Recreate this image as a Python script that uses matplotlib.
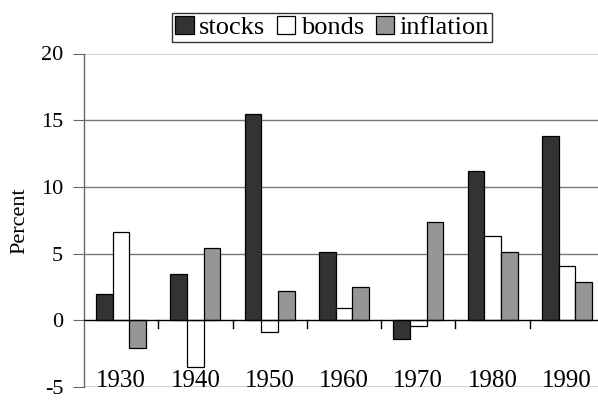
import numpy as np
import matplotlib
matplotlib.use("Agg")
import matplotlib.pyplot as plt

# Data
decades = ['1930', '1940', '1950', '1960', '1970', '1980', '1990']
stocks = [2.0, 3.5, 15.5, 5.1, -1.4, 11.2, 13.8]
bonds = [6.6, -3.5, -0.9, 0.9, -0.4, 6.3, 4.1]
inflation = [-2.1, 5.4, 2.2, 2.5, 7.4, 5.1, 2.9]
series_names = ['stocks', 'bonds', 'inflation']
colors = ['#333333', '#ffffff', '#969696']

plt.rcParams['font.family'] = ['Liberation Serif', 'DejaVu Serif']

fig = plt.figure(figsize=(5.98, 4.0), dpi=100)
ax = fig.add_axes([84 / 598, 1 - 387 / 400, 520 / 598, (387 - 53.5) / 400])

x = np.arange(len(decades))
w = 0.224
handles = []
for k, (vals, name, c) in enumerate(zip([stocks, bonds, inflation], series_names, colors)):
    b = ax.bar(x + (k - 1) * w, vals, width=w, color=c, edgecolor='black',
               linewidth=0.9, label=name, zorder=3)
    handles.append(b)

ax.set_xlim(-0.5, len(decades) - 0.5)
ax.set_ylim(-5, 20)

# Gridlines and frame lines
for yv in [5, 10, 15]:
    ax.axhline(yv, color='#777777', linewidth=1.0, zorder=1)
ax.axhline(20, color='#c8c8c8', linewidth=1.2, zorder=1)
ax.axhline(-5, color='#c8c8c8', linewidth=1.2, zorder=1)
ax.axhline(0, color='black', linewidth=1.0, zorder=4)

for s in ['top', 'right', 'bottom']:
    ax.spines[s].set_visible(False)
ax.spines['left'].set_color('#666666')
ax.spines['left'].set_linewidth(1.0)

ax.set_yticks([-5, 0, 5, 10, 15, 20])
ax.set_yticklabels(['-5', '0', '5', '10', '15', '20'], fontsize=16)
ax.tick_params(axis='y', direction='out', length=8, color='#666666', pad=7)
ax.set_ylabel('Percent', fontsize=16, labelpad=8)

# Category tick marks on the zero line
ax.set_xticks([])
for b in np.arange(0.5, len(decades) - 0.5, 1.0):
    ax.plot([b, b], [0, -0.55], color='black', linewidth=1.0, zorder=4)

# Category labels at the bottom of the plot area
for xi, lab in zip(x, decades):
    ax.text(xi, -5, lab, ha='center', va='baseline', fontsize=18)

leg = fig.legend(handles=handles, labels=series_names, loc='center',
                 bbox_to_anchor=(332 / 598, 1 - 27.4 / 400), ncol=3,
                 fontsize=19, frameon=True, fancybox=False,
                 handlelength=0.7, handleheight=0.7, handletextpad=0.2,
                 columnspacing=0.45, borderpad=0.1, borderaxespad=0)
leg.get_frame().set_edgecolor('black')
leg.get_frame().set_linewidth(1.0)

fig.savefig('out.png', dpi=100)
